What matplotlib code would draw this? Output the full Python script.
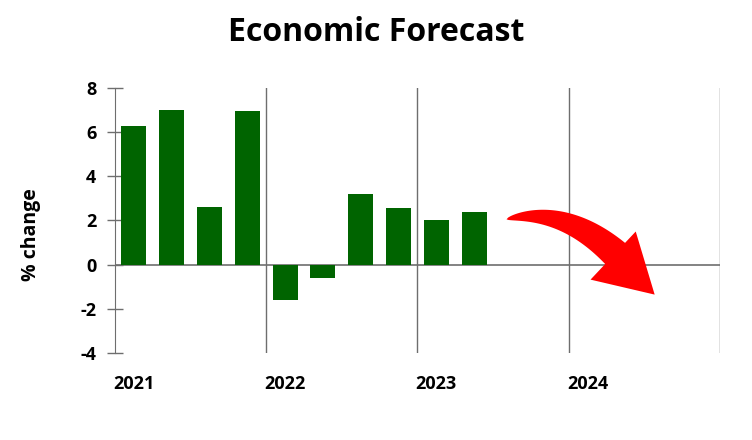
import numpy as np
import matplotlib.pyplot as plt
from matplotlib.patches import Polygon
from matplotlib.transforms import IdentityTransform

plt.rcParams['font.family'] = ['Open Sans', 'DejaVu Sans']

# quarterly % change, 2021 Q1 .. 2023 Q2
quarters = [2021.125, 2021.375, 2021.625, 2021.875,
            2022.125, 2022.375, 2022.625, 2022.875,
            2023.125, 2023.375]
values = [6.3, 7.0, 2.6, 6.95, -1.6, -0.6, 3.2, 2.55, 2.0, 2.4]

years = [2021, 2022, 2023, 2024]
year_lines = [2022, 2023, 2024, 2025]
yticks = [-4, -2, 0, 2, 4, 6, 8]

fig = plt.figure(figsize=(7.52, 4.40), dpi=100)
ax = fig.add_axes([0.153, 0.198, 0.804, 0.602])

line_col = '#6e6e6e'
for x in year_lines:
    ax.axvline(x, color=line_col, lw=1, zorder=1)
ax.axhline(0, color=line_col, lw=1.2, zorder=1)

ax.bar(quarters, values, width=0.165, color='#006400', zorder=2)

ax.set_xlim(2021, 2025)
ax.set_ylim(-4, 8)
ax.set_yticks(yticks)
ax.set_yticklabels([str(t) for t in yticks], fontsize=13, fontweight='bold')
ax.set_xticks([y + 0.125 for y in years])
ax.set_xticklabels([str(y) for y in years], fontsize=13, fontweight='bold')
ax.tick_params(axis='x', length=0, pad=16)
ax.tick_params(axis='y', direction='inout', length=11, width=1, color=line_col, pad=8)

for s in ['top', 'right', 'bottom']:
    ax.spines[s].set_visible(False)
ax.spines['left'].set_color(line_col)

ax.set_ylabel('% change', fontsize=14, fontweight='bold')
ax.yaxis.set_label_coords(-0.122, 0.445)
fig.suptitle('Economic Forecast', fontsize=23, fontweight='bold', y=0.964)

# red forecast arrow: tapered curved body + triangular head
start = ax.transData.transform((2023.59, 2.05))
tip = ax.transData.transform((2024.57, -1.36))
d = np.array([41.5, -39.0])           # head direction (display px)
u = d / np.linalg.norm(d)
n_end = np.array([-u[1], u[0]])
base = tip - 57 * u
ctrl = base - 1.2 * d
t = np.linspace(0, 1, 60)[:, None]
curve = (1 - t) ** 2 * start + 2 * (1 - t) * t * ctrl + t ** 2 * base
deriv = 2 * (1 - t) * (ctrl - start) + 2 * t * (base - ctrl)
deriv = deriv / np.linalg.norm(deriv, axis=1)[:, None]
normal = np.column_stack([-deriv[:, 1], deriv[:, 0]])
w = 29 * t ** 0.6
upper = curve + normal * w * 0.6
lower = curve - normal * w * 0.4
pts = np.vstack([upper, base + n_end * 33, tip, base - n_end * 33, lower[::-1]])
fig.patches.append(Polygon(pts, closed=True, facecolor='#ff0000', edgecolor='none',
                           transform=IdentityTransform(), figure=fig, zorder=5))

fig.savefig('out.png', dpi=100)
